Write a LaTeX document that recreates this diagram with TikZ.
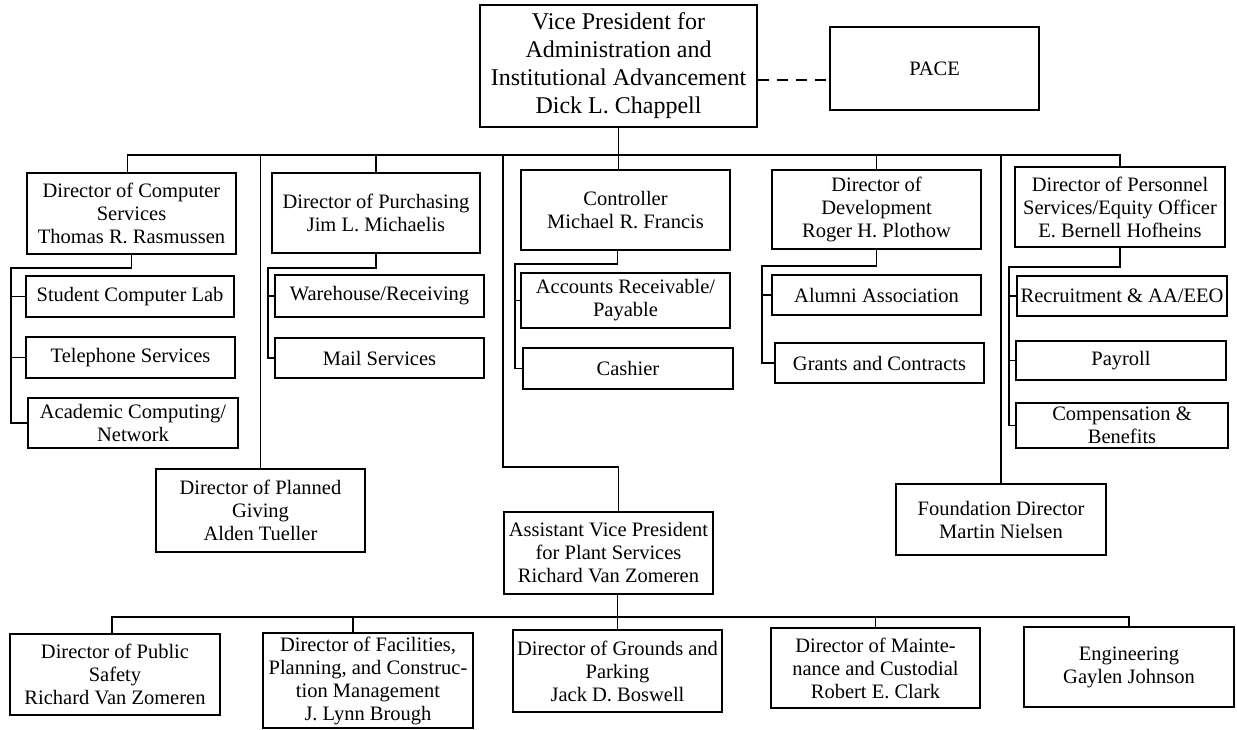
\documentclass[tikz,border=0pt]{standalone}
\usepackage{fontspec}
\setmainfont{Liberation Serif}
\begin{document}
\begin{tikzpicture}[x=1pt,y=1pt,
  unit/.style={draw=drawColor,line width=1.6pt,rectangle,inner sep=0pt,align=center,font=\fontsize{20.5}{23}\selectfont},
  link/.style={draw=drawColor,line width=1.6pt}]
\definecolor{fillColor}{RGB}{255,255,255}
\definecolor{drawColor}{RGB}{0,0,0}
\path[use as bounding box,fill=fillColor] (0,0) rectangle (1237,730);
\begin{scope}
% top of the chart
\node[unit,minimum width=277,minimum height=122,font=\fontsize{24}{28}\selectfont] (vp) at (618.5,664) {Vice President for\\Administration and\\Institutional Advancement\\Dick L. Chappell};

\node[unit,minimum width=209,minimum height=83] (pace) at (934.5,661.5) {PACE};

\node[unit,minimum width=209,minimum height=81] (comp) at (131.5,516.5) {Director of Computer\\Services\\Thomas R. Rasmussen};

\node[unit,minimum width=208,minimum height=80] (purch) at (376,517) {Director of Purchasing\\Jim L. Michaelis};

\node[unit,minimum width=209,minimum height=80] (ctrl) at (625.5,520) {Controller\\Michael R. Francis};

\node[unit,minimum width=209,minimum height=79] (dev) at (876.5,520.5) {Director of\\Development\\Roger H. Plothow};

\node[unit,minimum width=210,minimum height=80] (pers) at (1120,523) {Director of Personnel\\Services/Equity Officer\\E. Bernell Hofheins};
\end{scope}
\begin{scope}
% units under the directors
\node[unit,minimum width=208,minimum height=41] (scl) at (130,433.5) {Student Computer Lab};

\node[unit,minimum width=209,minimum height=41] (tel) at (130.5,372.5) {Telephone Services};

\node[unit,minimum width=210,minimum height=50] (acad) at (133,307) {Academic Computing/\\Network};

\node[unit,minimum width=209,minimum height=42] (ware) at (379.5,434) {Warehouse/Receiving};

\node[unit,minimum width=209,minimum height=40] (mail) at (379.5,372) {Mail Services};

\node[unit,minimum width=209,minimum height=55] (acct) at (625.5,429.5) {Accounts Receivable/\\Payable};

\node[unit,minimum width=210,minimum height=41] (cash) at (628,361.5) {Cashier};

\node[unit,minimum width=209,minimum height=40] (alum) at (876.5,435) {Alumni Association};

\node[unit,minimum width=209,minimum height=40] (grant) at (879.5,367) {Grants and Contracts};

\node[unit,minimum width=210,minimum height=40] (recr) at (1122,434) {Recruitment \& AA/EEO};

\node[unit,minimum width=210,minimum height=39] (pay) at (1121,369.5) {Payroll};

\node[unit,minimum width=212,minimum height=45] (cben) at (1122,304.5) {Compensation \&\\Benefits};
\end{scope}
\begin{scope}
% lower part
\node[unit,minimum width=209,minimum height=83] (plan) at (260.5,219.5) {Director of Planned\\Giving\\Alden Tueller};

\node[unit,minimum width=209,minimum height=82] (avp) at (608.5,177) {Assistant Vice President\\for Plant Services\\Richard Van Zomeren};

\node[unit,minimum width=210,minimum height=71] (found) at (1001,210.5) {Foundation Director\\Martin Nielsen};

\node[unit,minimum width=210,minimum height=81] (safety) at (115,55.5) {Director of Public\\Safety\\Richard Van Zomeren};

\node[unit,minimum width=210,minimum height=95] (facil) at (368,49.5) {Director of Facilities,\\Planning, and Construc-\\tion Management\\J. Lynn Brough};

\node[unit,minimum width=209,minimum height=82] (ground) at (617.5,59) {Director of Grounds and\\Parking\\Jack D. Boswell};

\node[unit,minimum width=209,minimum height=80] (maint) at (875.5,62) {Director of Mainte-\\nance and Custodial\\Robert E. Clark};

\node[unit,minimum width=210,minimum height=80] (eng) at (1129,63) {Engineering\\Gaylen Johnson};
\end{scope}
\begin{scope}
\coordinate (top bus) at (618,575);
\coordinate (avp rail) at (503,263);
\coordinate (plant bus) at (619,113);

\path[link,dash pattern=on 11pt off 8pt] ([yshift=-14]vp.east) -- ([yshift=-14]vp.east -| pace.west);

\path[link] (vp.south) -- (vp.south |- ctrl.north);

\path[link] ([xshift=-4]comp.north) |- (top bus) -| (pers.north);

\path[link] (purch.north) -- (purch.north |- top bus);

\path[link] (dev.north) -- (dev.north |- top bus);

\path[link] (plan.north) -- (plan.north |- top bus);

\path[link] (found.north) -- (found.north |- top bus);

\path[link] ([xshift=10]avp.north) |- (avp rail) -- (avp rail |- top bus);

% brackets
\path[link] (comp.south) -- ++(0,-13) -| ([xshift=-16]acad.west) -- (acad.west);
\path[link] (scl.west) -- ++(-14,0);
\path[link] (tel.west) -- ++(-14,0);

\path[link] (purch.south) -- ++(0,-14) -| ([xshift=-6]mail.west) -- (mail.west);
\path[link] (ware.west) -- ++(-6,0);

\path[link] ([xshift=-8]ctrl.south) -- ++(0,-13) -| ([xshift=-7]cash.west) -- (cash.west);
\path[link] (acct.west) -- ++(-5,0);

\path[link] (dev.south) -- ++(0,-16) -| ([xshift=-12]grant.west) -- (grant.west);
\path[link] (alum.west) -- ++(-9,0);

\path[link] (pers.south) -- ++(0,-19) -| ([xshift=-6]cben.west) -- (cben.west);
\path[link] (recr.west) -- ++(-7,0);
\path[link] (pay.west) -- ++(-6,0);

% plant services
\path[link] ([xshift=-3]safety.north) |- (plant bus) -| (eng.north);

\path[link] ([xshift=-15]facil.north) -- ([xshift=-15]facil.north |- plant bus);

\path[link] (maint.north) -- (maint.north |- plant bus);

\path[link] (ground.north |- avp.south) -- (ground.north);
\end{scope}
\end{tikzpicture}
\end{document}
